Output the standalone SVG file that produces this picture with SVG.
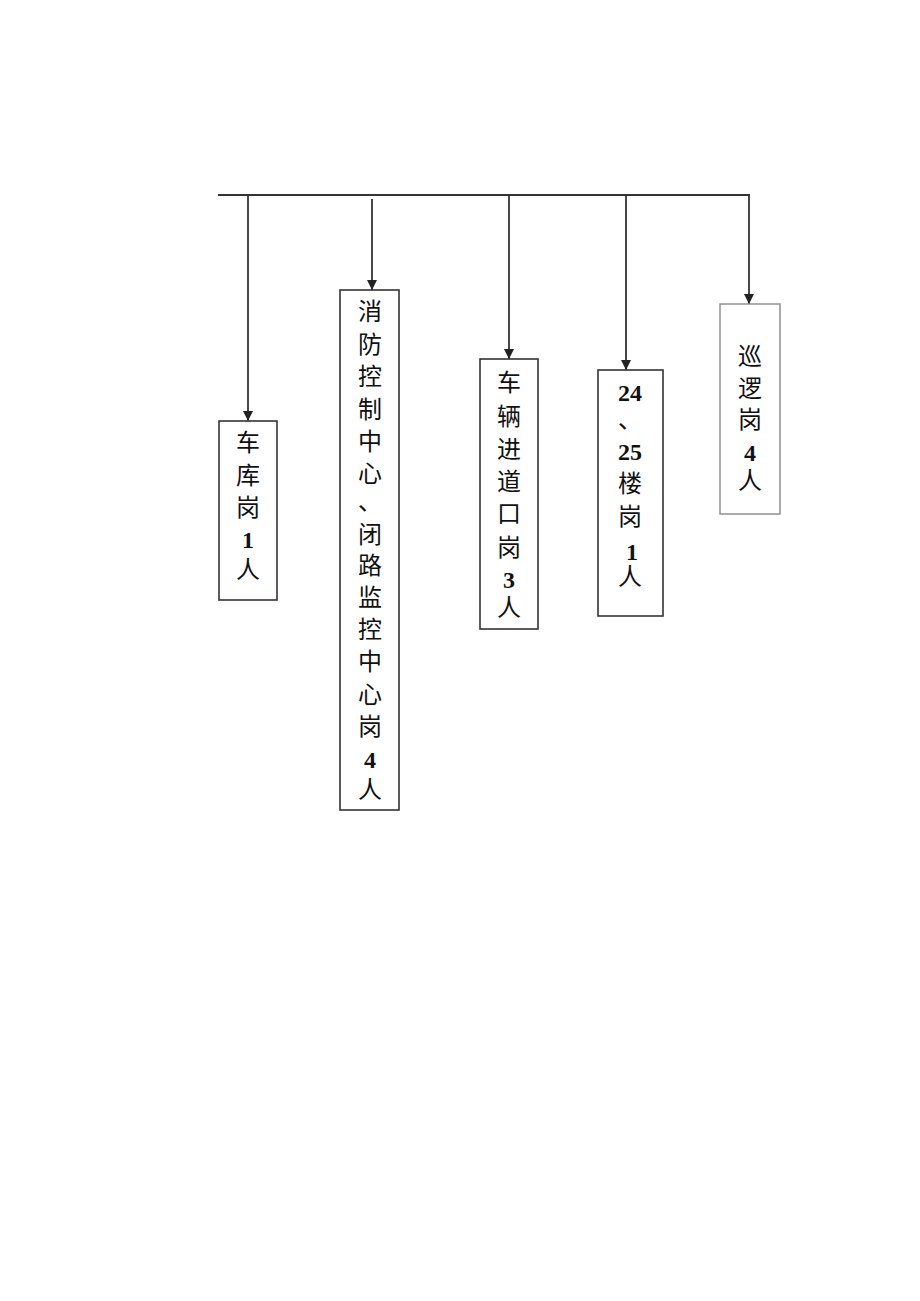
<svg xmlns="http://www.w3.org/2000/svg" width="920" height="1301" viewBox="0 0 920 1301">
<style>
.box{fill:#fff;stroke:#333;stroke-width:1.6}
.box2{fill:#fff;stroke:#888;stroke-width:1.4}
.ln{stroke:#333;stroke-width:1.8;fill:none}
.cj{font-family:"Noto Sans CJK SC","Noto Sans",sans-serif;font-size:24px;fill:#111;text-anchor:middle}
.nm{font-family:"Liberation Serif",serif;font-weight:bold;font-size:24px;fill:#111;text-anchor:middle}
</style>
<defs>
<marker id="ar" viewBox="0 0 10 10" refX="10" refY="5" markerWidth="10" markerHeight="10" markerUnits="userSpaceOnUse" orient="auto">
<path d="M0,0 L10,5 L0,10 z" fill="#222"/>
</marker>
</defs>
<g id="connectors">
<line class="ln" x1="218" y1="195" x2="750" y2="195"/>
<line class="ln" x1="248" y1="195" x2="248" y2="421" marker-end="url(#ar)"/>
<line class="ln" x1="372" y1="199" x2="372" y2="290" marker-end="url(#ar)"/>
<line class="ln" x1="509" y1="195" x2="509" y2="359" marker-end="url(#ar)"/>
<line class="ln" x1="626" y1="195" x2="626" y2="370" marker-end="url(#ar)"/>
<line class="ln" x1="749" y1="195" x2="749" y2="304" marker-end="url(#ar)"/>
</g>
<g id="n1">
<rect class="box" x="219" y="421" width="58" height="179"/>
<text class="cj"><tspan x="248" y="451">车</tspan><tspan x="248" y="484">库</tspan><tspan x="248" y="516">岗</tspan></text>
<text class="nm" x="248" y="548">1</text>
<text class="cj" x="248" y="578">人</text>
</g>
<g id="n2">
<rect class="box" x="340" y="290" width="59" height="520"/>
<text class="cj"><tspan x="370" y="320">消</tspan><tspan x="370" y="353">防</tspan><tspan x="370" y="385">控</tspan><tspan x="370" y="418">制</tspan><tspan x="370" y="450">中</tspan><tspan x="370" y="482">心</tspan><tspan x="370" y="510">、</tspan><tspan x="370" y="543">闭</tspan><tspan x="370" y="574">路</tspan><tspan x="370" y="606">监</tspan><tspan x="370" y="638">控</tspan><tspan x="370" y="670">中</tspan><tspan x="370" y="703">心</tspan><tspan x="370" y="735">岗</tspan></text>
<text class="nm" x="370" y="768">4</text>
<text class="cj" x="370" y="798">人</text>
</g>
<g id="n3">
<rect class="box" x="480" y="359" width="58" height="270"/>
<text class="cj"><tspan x="509" y="391">车</tspan><tspan x="509" y="425">辆</tspan><tspan x="509" y="458">进</tspan><tspan x="509" y="490">道</tspan><tspan x="509" y="522">口</tspan><tspan x="509" y="556">岗</tspan></text>
<text class="nm" x="509" y="588">3</text>
<text class="cj" x="509" y="616">人</text>
</g>
<g id="n4">
<rect class="box" x="598" y="370" width="65" height="246"/>
<text class="nm" x="630" y="401">24</text>
<text class="cj" x="630" y="428">、</text>
<text class="nm" x="630" y="460">25</text>
<text class="cj"><tspan x="630" y="492">楼</tspan><tspan x="630" y="525">岗</tspan></text>
<text class="nm" x="632" y="560">1</text>
<text class="cj" x="630" y="585">人</text>
</g>
<g id="n5">
<rect class="box2" x="720" y="304" width="60" height="210"/>
<text class="cj"><tspan x="750" y="365">巡</tspan><tspan x="750" y="397">逻</tspan><tspan x="750" y="428">岗</tspan></text>
<text class="nm" x="750" y="461">4</text>
<text class="cj" x="750" y="489">人</text>
</g>
</svg>
